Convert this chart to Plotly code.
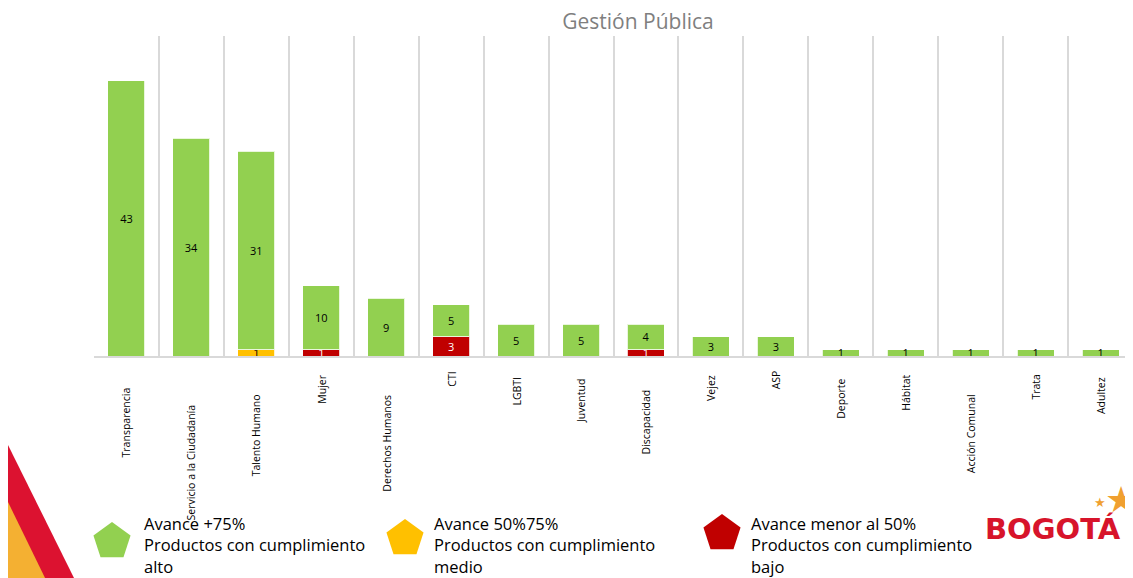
import math
import plotly.graph_objects as go

categories = ["Transparencia", "Servicio a la Ciudadanía", "Talento Humano", "Mujer",
              "Derechos Humanos", "CTI", "LGBTI", "Juventud", "Discapacidad", "Vejez",
              "ASP", "Deporte", "Hábitat", "Acción Comunal", "Trata", "Adultez"]
bajo =  [None, None, None, 1, None, 3, None, None, 1, None, None, None, None, None, None, None]
medio = [None, None, 1, None, None, None, None, None, None, None, None, None, None, None, None, None]
alto =  [43, 34, 31, 10, 9, 5, 5, 5, 4, 3, 3, 1, 1, 1, 1, 1]

title_text = "Gestión Pública"
legend_titles = ["Avance +75%", "Avance 50%75%", "Avance menor al 50%"]
legend_subs = ["Productos con cumplimiento<br>alto", "Productos con cumplimiento<br>medio",
               "Productos con cumplimiento<br>bajo"]

# layout (screen pixels; the page has an 8px body margin)
OFF = 8
label_top_px = [385, 402, 392, 373, 393, 370, 375, 377, 387, 373, 368, 377, 373, 392, 372, 375]

GREEN, YELLOW, RED = "#92D050", "#FFC000", "#C00000"
W, H = 1125, 570
ML, MR, MT, MB = 94 - OFF, 0, 36 - OFF, 570 - (356 - OFF)
PW, PH = W - ML - MR, H - MT - MB
BASE = 356

def px2paper(x, y):
    return (x - OFF - ML) / PW, (H - MB - (y - OFF)) / PH

fig = go.Figure()
common = dict(textposition="inside", insidetextanchor="middle", constraintext="none",
              textangle=0, marker_line_color="rgba(255,255,255,0.8)", marker_line_width=1,
              showlegend=False, hoverinfo="x+y")
fig.add_bar(x=categories, y=bajo, marker_color=RED, text=bajo,
            textfont=dict(color="white", size=11, family="Open Sans"), **common)
fig.add_bar(x=categories, y=medio, marker_color=YELLOW, text=medio,
            textfont=dict(color="black", size=11, family="Open Sans"), **common)
fig.add_bar(x=categories, y=alto, marker_color=GREEN, text=alto,
            textfont=dict(color="black", size=11, family="Open Sans"), **common)

fig.update_layout(
    barmode="stack", bargap=0.43, width=W, height=H,
    margin=dict(l=ML, r=MR, t=MT, b=MB),
    plot_bgcolor="white", paper_bgcolor="white",
    font=dict(family="Open Sans", color="black"),
    title=dict(text=title_text, x=(638 - OFF) / W, xanchor="center",
               y=1 - (22 - OFF) / H, yanchor="middle",
               font=dict(size=21, color="#7F7F7F", family="Open Sans")),
)
fig.update_xaxes(type="category", tickson="boundaries", showgrid=True, gridcolor="#D9D9D9",
                 gridwidth=2, showline=True, linecolor="#D9D9D9", linewidth=2,
                 showticklabels=False, ticks="")
fig.update_yaxes(range=[0, 50], showgrid=False, showticklabels=False, zeroline=False)

# category labels (rotated), each at its own offset below the axis
for cat, top in zip(categories, label_top_px):
    fig.add_annotation(x=cat, xref="x", y=0, yref="paper", yanchor="top", xanchor="center",
                       yshift=-(top - BASE), text=cat, textangle=-90, showarrow=False,
                       font=dict(size=10.5, color="black", family="Open Sans"))

# legend (custom pentagons + text)
legend_centers = [(112, 540), (405, 537), (722, 532)]
colors = [GREEN, YELLOW, RED]
text_x = [142, 432, 749]
for (cx, cy), col, tx_, t1, t2 in zip(legend_centers, colors, text_x, legend_titles, legend_subs):
    R = 19.5
    pts = []
    for k in range(5):
        a = math.radians(-90 + 72 * k)
        pts.append(px2paper(cx + R * math.cos(a), cy + 1.5 + R * math.sin(a)))
    path = "M " + " L ".join(f"{x:.5f},{y:.5f}" for x, y in pts) + " Z"
    fig.add_shape(type="path", path=path, xref="paper", yref="paper", fillcolor=col, line_width=0)
    ax, ay = px2paper(tx_, 510)
    fig.add_annotation(x=ax, y=ay, xref="paper", yref="paper", xanchor="left", yanchor="top",
                       text=t1 + "<br>" + t2, showarrow=False, align="left",
                       font=dict(size=16.5, color="black", family="Open Sans"))

# left decoration
def tri(pts, col):
    pp = [px2paper(x, y) for x, y in pts]
    path = "M " + " L ".join(f"{x:.5f},{y:.5f}" for x, y in pp) + " Z"
    fig.add_shape(type="path", path=path, xref="paper", yref="paper", fillcolor=col, line_width=0)

tri([(7, 443), (76, 582), (7, 582)], "#DC1230")
tri([(7, 500), (47, 582), (7, 582)], "#F4B032")

# Bogota logo
lx, ly = px2paper(983, 529)
fig.add_annotation(x=lx, y=ly, xref="paper", yref="paper", xanchor="left", yanchor="middle",
                   text="<b>BOGOTÁ</b>", showarrow=False,
                   font=dict(size=29, color="#D7142B", family="DejaVu Sans"))
sx, sy = px2paper(1121, 499)
fig.add_annotation(x=sx, y=sy, xref="paper", yref="paper", text="★", showarrow=False,
                   xanchor="center", yanchor="middle",
                   font=dict(size=36, color="#F0A030", family="DejaVu Sans"))
sx, sy = px2paper(1100, 502)
fig.add_annotation(x=sx, y=sy, xref="paper", yref="paper", text="★", showarrow=False,
                   xanchor="center", yanchor="middle",
                   font=dict(size=13, color="#F0A030", family="DejaVu Sans"))

fig.write_html("out.html")
